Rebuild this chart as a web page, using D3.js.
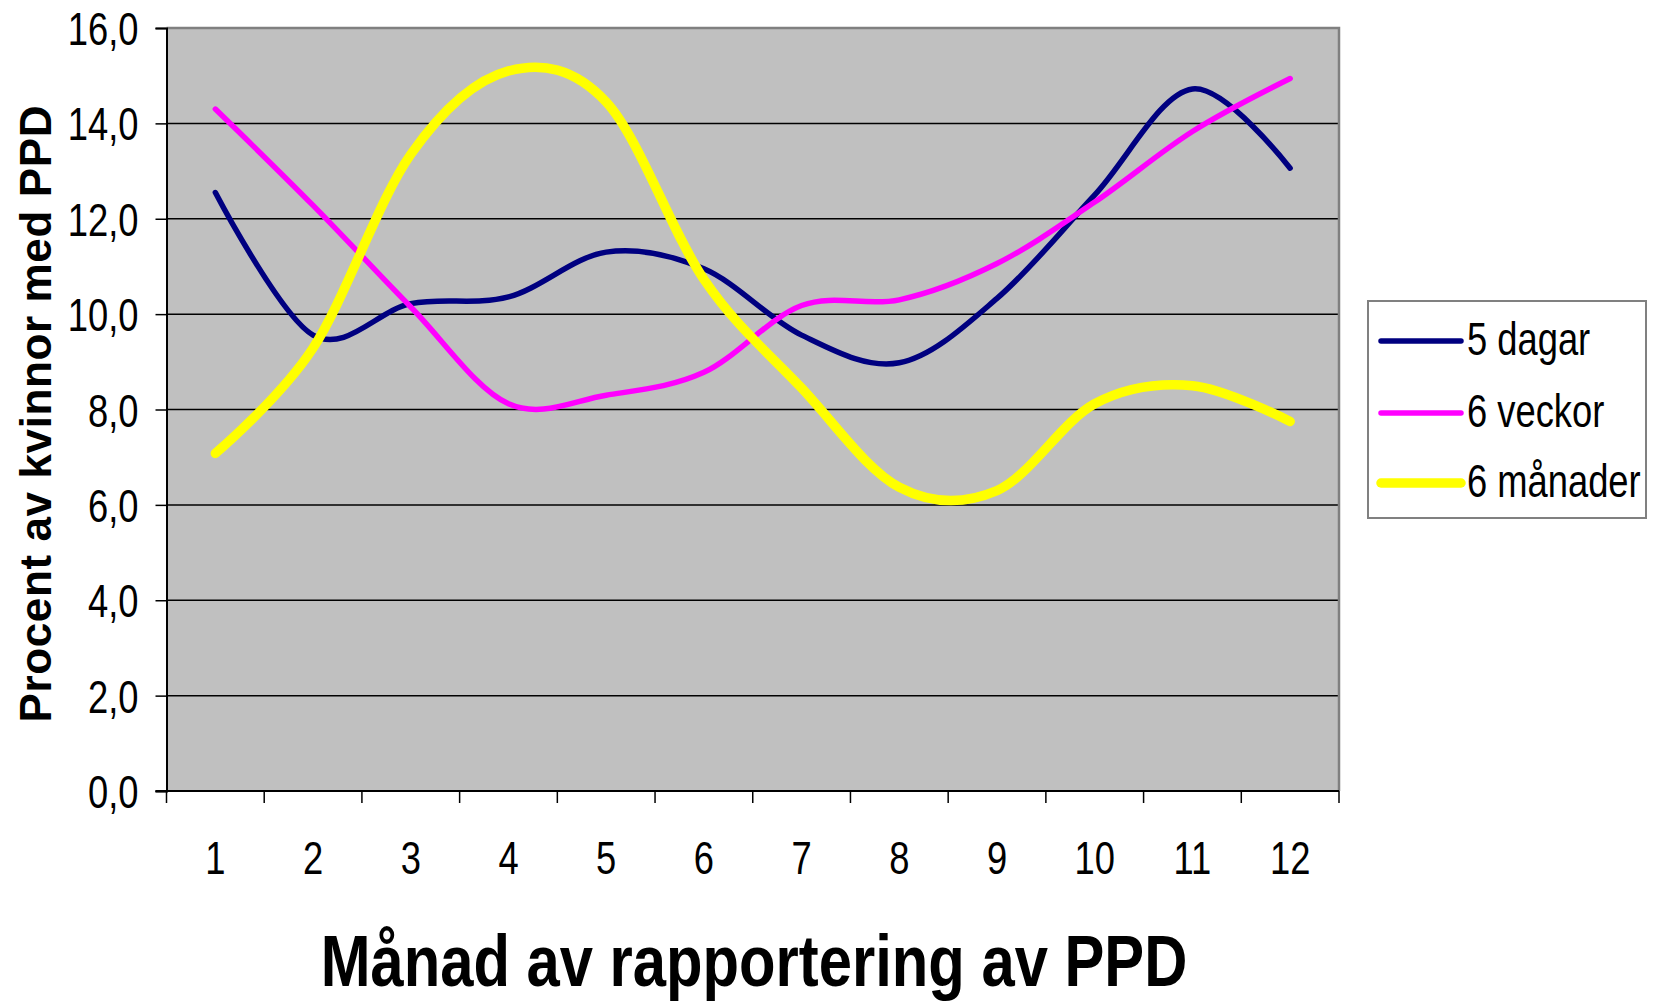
<!DOCTYPE html>
<html>
<head>
<meta charset="utf-8">
<script src="https://cdn.jsdelivr.net/npm/d3@7"></script>
<style>
  body { margin: 0; background: #fff; }
  svg { display: block; }
  text { font-family: "Liberation Sans", Arial, sans-serif; }
</style>
</head>
<body>
<svg width="1653" height="1004"></svg>
<script>
// months on the x axis
const months = ["1", "2", "3", "4", "5", "6", "7", "8", "9", "10", "11", "12"];
const seriesNames = ["5 dagar", "6 veckor", "6 månader"];
const dagar5 = [12.55, 9.56, 10.22, 10.36, 11.3, 10.95, 9.56, 8.98, 10.33, 12.5, 14.72, 13.06];
const veckor6 = [14.3, 12.28, 10.15, 8.12, 8.3, 8.78, 10.18, 10.3, 11.06, 12.35, 13.83, 14.94];
const manader6 = [7.08, 9.29, 13.35, 15.1, 14.45, 10.73, 8.45, 6.37, 6.3, 8.12, 8.5, 7.75];
const yTicks = [0, 2, 4, 6, 8, 10, 12, 14, 16];

const colors = ["#000080", "#FF00FF", "#FFFF00"];
const widths = [5.5, 5.5, 9.5];
const narrow = 0.79; // the original font is a narrow face, squeeze the regular one

const svg = d3.select("svg");
const margin = {top: 28, left: 166.5, right: 314, bottom: 213};
const width = 1653 - margin.left - margin.right;
const height = 1004 - margin.top - margin.bottom;

const x = d3.scaleBand().domain(months).range([0, width]);
const y = d3.scaleLinear().domain([0, 16]).range([height, 0]);

const g = svg.append("g").attr("transform", `translate(${margin.left},${margin.top})`);

// plot background
g.append("rect")
    .attr("width", width).attr("height", height)
    .attr("fill", "#C0C0C0");

// gridlines
g.selectAll(".grid").data(yTicks.filter(d => d > 0 && d < 16)).enter()
    .append("line")
    .attr("x1", 0).attr("x2", width)
    .attr("y1", d => y(d)).attr("y2", d => y(d))
    .attr("stroke", "#000").attr("stroke-width", 1.5);

// top and right border
g.append("path")
    .attr("d", `M0,${y(16)}H${width}V${height}`)
    .attr("fill", "none").attr("stroke", "#808080").attr("stroke-width", 2.5);

// y axis
const yAxis = g.append("g")
    .call(d3.axisLeft(y).tickValues(yTicks).tickSize(11).tickPadding(17)
        .tickFormat(d => d3.format(".1f")(d).replace(".", ",")));
yAxis.select(".domain").attr("stroke", "#000").attr("stroke-width", 2);
yAxis.selectAll(".tick line").attr("stroke", "#000").attr("stroke-width", 1.5);
yAxis.selectAll("text")
    .attr("x", 0)
    .attr("transform", `translate(-28,0) scale(${narrow},1)`)
    .attr("font-family", null)
    .attr("font-size", 46).attr("fill", "#000").attr("dy", "0.36em");

// x axis: ticks between categories
const xAxis = g.append("g").attr("transform", `translate(0,${height})`);
xAxis.append("line").attr("x1", -11).attr("x2", width)
    .attr("stroke", "#000").attr("stroke-width", 2);
const boundaries = months.map(m => x(m)).concat([width]);
xAxis.selectAll(".xt").data(boundaries).enter().append("line")
    .attr("x1", d => d).attr("x2", d => d)
    .attr("y1", 0).attr("y2", 12)
    .attr("stroke", "#000").attr("stroke-width", 1.5);
xAxis.selectAll(".xl").data(months).enter().append("text")
    .attr("transform", d => `translate(${x(d) + x.bandwidth() / 2},83) scale(${narrow},1)`)
    .attr("text-anchor", "middle")
    .attr("font-size", 46)
    .text(d => d);

// lines
const line = d3.line()
    .x((d, i) => x(months[i]) + x.bandwidth() / 2)
    .y(d => y(d))
    .curve(d3.curveCatmullRom.alpha(0));

[dagar5, veckor6, manader6].forEach((vals, i) => {
    g.append("path")
        .datum(vals)
        .attr("d", line)
        .attr("fill", "none")
        .attr("stroke", colors[i])
        .attr("stroke-width", widths[i])
        .attr("stroke-linecap", "round")
        .attr("stroke-linejoin", "round");
});

// axis titles
svg.append("text")
    .attr("transform", "translate(754,986) scale(0.83,1)")
    .attr("text-anchor", "middle")
    .attr("font-size", 72).attr("font-weight", "bold")
    .text("Månad av rapportering av PPD");

svg.append("text")
    .attr("transform", "translate(51,414) rotate(-90)")
    .attr("text-anchor", "middle")
    .attr("font-size", 44).attr("font-weight", "bold")
    .attr("textLength", 617).attr("lengthAdjust", "spacing")
    .text("Procent av kvinnor med PPD");

// legend
const legend = svg.append("g").attr("transform", "translate(1368,301)");
legend.append("rect")
    .attr("width", 278).attr("height", 217)
    .attr("fill", "#fff").attr("stroke", "#808080").attr("stroke-width", 2);
const rowY = [40, 112, 182];
seriesNames.forEach((name, i) => {
    legend.append("line")
        .attr("x1", 13).attr("x2", 93)
        .attr("y1", rowY[i]).attr("y2", rowY[i])
        .attr("stroke", colors[i]).attr("stroke-width", widths[i])
        .attr("stroke-linecap", "round");
    legend.append("text")
        .attr("transform", `translate(99,${rowY[i]}) scale(${narrow},1)`)
        .attr("dy", "0.3em")
        .attr("font-size", 46)
        .text(name);
});
</script>
</body>
</html>
